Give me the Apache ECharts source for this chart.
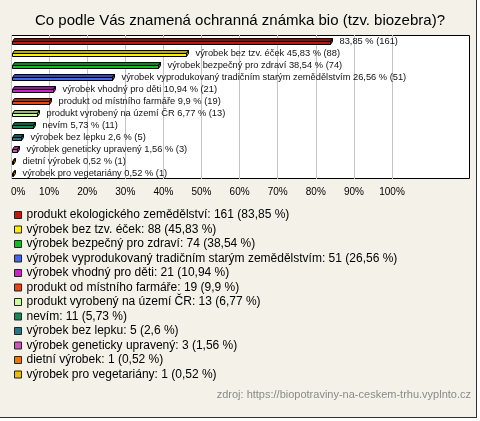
<!DOCTYPE html>
<html><head><meta charset="utf-8">
<script src="https://cdn.jsdelivr.net/npm/echarts@6/dist/echarts.min.js"></script>
<style>html,body{margin:0;padding:0;background:#fff}#c{width:480px;height:421px}</style>
</head><body><div id="c"></div>
<script>
const titleText = 'Co podle Vás znamená ochranná známka bio (tzv. biozebra)?';
const categories = [
  'produkt ekologického zemědělství',
  'výrobek bez tzv. éček',
  'výrobek bezpečný pro zdraví',
  'výrobek vyprodukovaný tradičním starým zemědělstvím',
  'výrobek vhodný pro děti',
  'produkt od místního farmáře',
  'produkt vyrobený na území ČR',
  'nevím',
  'výrobek bez lepku',
  'výrobek geneticky upravený',
  'dietní výrobek',
  'výrobek pro vegetariány'
];
const counts = [161, 88, 74, 51, 21, 19, 13, 11, 5, 3, 1, 1];
const percents = [83.85, 45.83, 38.54, 26.56, 10.94, 9.9, 6.77, 5.73, 2.6, 1.56, 0.52, 0.52];
const colors = ['#c0180c', '#ffee00', '#11bb22', '#4466ee', '#cc22cc', '#ee4411', '#ccff99', '#118855', '#227788', '#cc55bb', '#ee7700', '#eebb00'];
const nameInBarLabel = [false, true, true, true, true, true, true, true, true, true, true, true];
const axisTicks = [0, 10, 20, 30, 40, 50, 60, 70, 80, 90, 100];
const sourceText = 'zdroj: https://biopotraviny-na-ceskem-trhu.vyplnto.cz';

const fmt = v => String(v).replace('.', ',');
const FONT = '"Liberation Sans", Arial, sans-serif';

function darken(c, f) {
  const a = echarts.color.parse(c);
  return 'rgb(' + Math.round(a[0] * f) + ',' + Math.round(a[1] * f) + ',' + Math.round(a[2] * f) + ')';
}

function renderItem(params, api) {
  const v = api.value(0), idx = api.value(1);
  const p0 = api.coord([0, idx]);
  const p1 = api.coord([v, idx]);
  const color = api.visual('color');
  const dark = darken(color, 0.72);
  const d = 2;
  const x0 = Math.round(p0[0]) + 1.5;
  const x1 = Math.max(Math.round(p1[0]) + 0.5, x0 + 1);
  const yF = Math.round(p0[1]) + 0.5;
  const yT = yF - 3;
  const yB = yF + 3;
  const i = idx;
  const label = (nameInBarLabel[i] ? categories[i] + ' ' : '') + fmt(percents[i]) + ' % (' + counts[i] + ')';
  return {
    type: 'group',
    children: [
      { type: 'polygon', shape: { points: [[x0, yF], [x0 + d, yT], [x1 + d, yT], [x1, yF]] },
        style: { fill: dark, stroke: '#000', lineWidth: 1 } },
      { type: 'polygon', shape: { points: [[x1, yF], [x1 + d, yT], [x1 + d, yB - 3], [x1, yB]] },
        style: { fill: dark, stroke: '#000', lineWidth: 1 } },
      { type: 'rect', shape: { x: x0, y: yF, width: x1 - x0, height: yB - yF },
        style: { fill: color, stroke: '#000', lineWidth: 1 } },
      { type: 'text', x: x1 + d + 7, y: p0[1], style: { text: label, font: '9.3px ' + FONT, fill: '#111', verticalAlign: 'middle', align: 'left' } }
    ]
  };
}

const series = categories.map((name, i) => ({
  name: name,
  type: 'custom',
  renderItem: renderItem,
  itemStyle: { color: colors[i] },
  encode: { x: 0, y: 1 },
  data: [[percents[i], i]],
  z: 5
}));

const chart = echarts.init(document.getElementById('c'), null, { renderer: 'canvas' });
chart.setOption({
  backgroundColor: '#ffffff',
  animation: false,
  title: { text: titleText, left: 'center', top: 8,
    textStyle: { fontFamily: FONT, fontSize: 15, fontWeight: 'normal', color: '#000' } },
  graphic: [
    { type: 'rect', z: -10, shape: { x: 0, y: 0, width: 477, height: 418 }, style: { fill: '#f3f1e8' } },
    { type: 'line', z: -10, shape: { x1: 476.5, y1: 0, x2: 476.5, y2: 418 }, style: { stroke: '#333', lineWidth: 1 } },
    { type: 'line', z: -10, shape: { x1: 0, y1: 417.5, x2: 477, y2: 417.5 }, style: { stroke: '#333', lineWidth: 1 } },
    { type: 'rect', z: -5, shape: { x: 11.5, y: 35.5, width: 458, height: 143 }, style: { fill: '#fff', stroke: '#000', lineWidth: 1 } },
    { type: 'text', right: 9, top: 389, style: { text: sourceText, font: '11px ' + FONT, fill: '#8a8a8a' } }
  ],
  grid: { left: 11, top: 35, width: 381, height: 144, containLabel: false },
  xAxis: {
    type: 'value', min: 0, max: 100, interval: 10,
    axisLine: { show: false }, axisTick: { show: false },
    splitLine: { show: true, lineStyle: { color: '#c4c4c4', width: 1 } },
    axisLabel: { formatter: v => axisTicks.includes(v) ? v + '%' : '', fontFamily: FONT, fontSize: 10, color: '#000', margin: 8, alignMinLabel: 'left' }
  },
  yAxis: { type: 'category', data: categories, inverse: true, show: false },
  legend: {
    orient: 'vertical', left: 9, top: 203, itemWidth: 7, itemHeight: 7, itemGap: 0.5,
    icon: 'rect', selectedMode: false,
    itemStyle: { borderColor: '#222', borderWidth: 1 },
    textStyle: { fontFamily: FONT, fontSize: 12, color: '#000', lineHeight: 14 },
    formatter: name => { const i = categories.indexOf(name); return name + ': ' + counts[i] + ' (' + fmt(percents[i]) + ' %)'; },
    data: categories
  },
  series: series
});
</script></body></html>
